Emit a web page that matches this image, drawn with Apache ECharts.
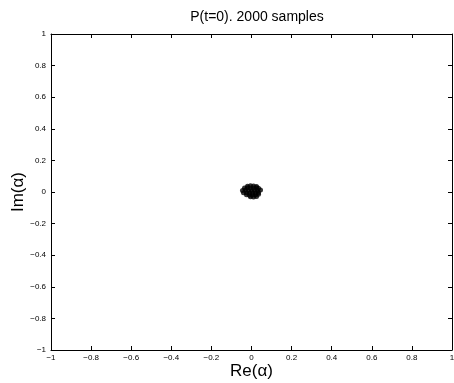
<!DOCTYPE html>
<html><head><meta charset="utf-8">
<script src="https://cdn.jsdelivr.net/npm/echarts@6/dist/echarts.min.js"></script>
<style>html,body{margin:0;padding:0;background:#fff}#c{width:454px;height:383px}</style>
</head><body><div id="c"></div>
<script>
// Samples (approximate positions read from the dense blob near the origin)
var reVals = [-0.02,-0.005,0.01,0.025,
  -0.035,-0.02,-0.005,0.01,0.025,0.035,
  -0.045,-0.03,-0.015,0,0.015,0.03,0.045,
  -0.04,-0.025,-0.01,0.005,0.02,0.035,
  -0.025,-0.01,0.005,0.02,0.035,
  -0.005,0.01,0.025];
var imVals = [0.037,0.04,0.038,0.035,
  0.025,0.027,0.026,0.025,0.027,0.024,
  0.01,0.012,0.009,0.01,0.011,0.01,0.012,
  -0.005,-0.004,-0.006,-0.005,-0.004,-0.003,
  -0.018,-0.02,-0.019,-0.017,-0.015,
  -0.03,-0.032,-0.028];
var tickVals = [-1,-0.8,-0.6,-0.4,-0.2,0,0.2,0.4,0.6,0.8,1];
var titleText = 'P(t=0). 2000 samples';

var pts = reVals.map(function(r,i){return [r, imVals[i]];});
function fmt(v){
  var r = Math.round(v*10)/10;
  if (tickVals.indexOf(r) < 0) return '';
  return r < 0 ? '\u2212' + String(Math.abs(r)) : String(r);
}
var font = 'Liberation Sans, Arial, Helvetica, sans-serif';
function axisBase(){ return {
  type: 'value', min: -1, max: 1, interval: 0.2,
  axisLine: {onZero: false, lineStyle: {color: '#000', width: 1}},
  axisTick: {inside: true, length: 4, lineStyle: {color: '#000'}},
  splitLine: {show: false}
};}
var chart = echarts.init(document.getElementById('c'), null, {renderer: 'canvas'});
chart.setOption({
  animation: false,
  backgroundColor: '#fff',
  title: {text: titleText, left: 252, top: 5, textAlign: 'center',
    textStyle: {fontFamily: font, fontSize: 14, fontWeight: 'normal', color: '#000'}},
  grid: {left: 51, right: 2, top: 34, bottom: 33, containLabel: false, outerBoundsMode: 'none'},
  xAxis: [
    Object.assign(axisBase(), {position: 'bottom',
      name: 'Re(\u03b1)', nameLocation: 'middle', nameGap: 13, nameMoveOverlap: false,
      nameTextStyle: {fontFamily: font, fontSize: 17, color: '#000'},
      axisLabel: {fontFamily: font, fontSize: 8, color: '#000', margin: 4, formatter: fmt}}),
    Object.assign(axisBase(), {position: 'top', axisLabel: {show: false}})
  ],
  yAxis: [
    Object.assign(axisBase(), {position: 'left',
      name: 'Im(\u03b1)', nameLocation: 'middle', nameGap: 24, nameRotate: 90, nameMoveOverlap: false,
      nameTextStyle: {fontFamily: font, fontSize: 17, color: '#000'},
      axisLabel: {fontFamily: font, fontSize: 8, color: '#000', margin: 5, formatter: fmt}}),
    Object.assign(axisBase(), {position: 'right', axisLabel: {show: false}})
  ],
  series: [{
    type: 'scatter', data: pts, xAxisIndex: 0, yAxisIndex: 0,
    symbol: 'circle', symbolSize: 5,
    itemStyle: {color: '#000'}
  }]
});
</script></body></html>
